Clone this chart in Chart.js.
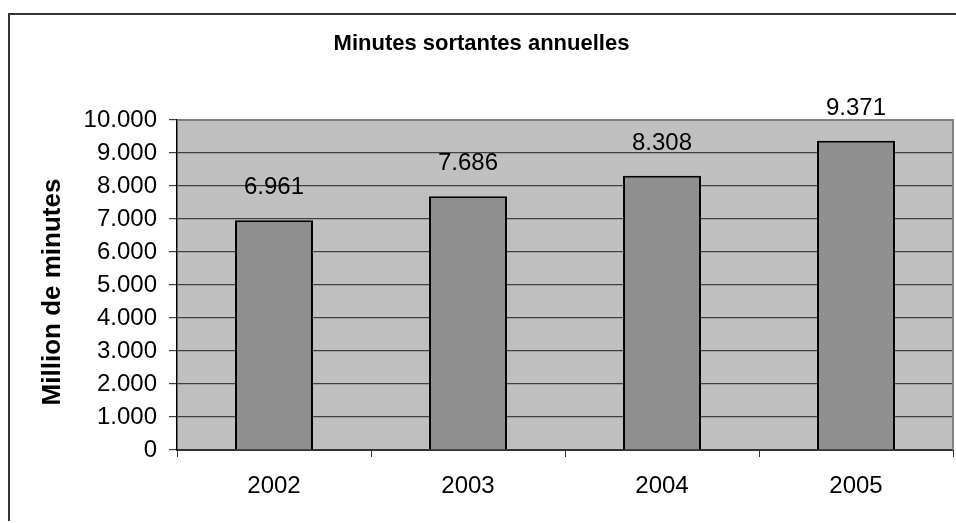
<!DOCTYPE html>
<html>
<head>
<meta charset="utf-8">
<script src="https://cdn.jsdelivr.net/npm/chart.js@4"></script>
<style>
  html, body { margin: 0; padding: 0; background: #fff; }
  #wrap { width: 956px; height: 523px; }
</style>
</head>
<body>
<div id="wrap"><canvas id="miGrafico" width="956" height="523"></canvas></div>
<script>
const years = ["2002", "2003", "2004", "2005"];
const minutes = [6961, 7686, 8308, 9371];
const yTicks = [0, 1000, 2000, 3000, 4000, 5000, 6000, 7000, 8000, 9000, 10000];

const FONT = "'Liberation Sans', Arial, sans-serif";

function fmt(v) {
	return String(v).replace(/\B(?=(\d{3})+(?!\d))/g, ".");
}

// grey plot background, right border, outer frame, axis title and value labels
const decor = {
	id: "decor",
	beforeDraw(chart) {
		const { ctx, chartArea: a } = chart;
		ctx.save();
		ctx.fillStyle = "#c0c0c0";
		ctx.fillRect(a.left, a.top, a.right - a.left, a.bottom - a.top);
		ctx.restore();
	},
	afterDatasetsDraw(chart) {
		const { ctx, chartArea: a } = chart;
		ctx.save();
		ctx.strokeStyle = "#808080";
		ctx.lineWidth = 2;
		ctx.beginPath();
		ctx.moveTo(a.left, a.top);
		ctx.lineTo(a.right, a.top);
		ctx.lineTo(a.right, a.bottom);
		ctx.stroke();

		ctx.strokeStyle = "#333";
		ctx.lineWidth = 2;
		ctx.beginPath();
		ctx.moveTo(9, 521);
		ctx.lineTo(9, 14);
		ctx.lineTo(956, 14);
		ctx.stroke();

		// y axis title
		ctx.save();
		ctx.translate(53, 292);
		ctx.rotate(-Math.PI / 2);
		ctx.fillStyle = "#000";
		ctx.font = "bold 26px " + FONT;
		ctx.textAlign = "center";
		ctx.textBaseline = "middle";
		ctx.fillText("Million de minutes", 0, 0);
		ctx.restore();

		ctx.fillStyle = "#000";
		ctx.font = "24px " + FONT;
		ctx.textAlign = "center";
		ctx.textBaseline = "alphabetic";
		chart.getDatasetMeta(0).data.forEach((bar, i) => {
			ctx.fillText(fmt(minutes[i]), bar.x, bar.y - 26);
		});
		ctx.restore();
	},
};

new Chart(document.getElementById("miGrafico"), {
	type: "bar",
	data: {
		labels: years,
		datasets: [
			{
				data: minutes,
				backgroundColor: "#8f8f8f",
				borderColor: "#000",
				borderWidth: 2,
				categoryPercentage: 1,
				barPercentage: 0.402,
			},
		],
	},
	options: {
		responsive: false,
		animation: false,
		layout: { padding: { left: 10, right: 3, top: 0, bottom: 0 } },
		plugins: {
			legend: { display: false },
			tooltip: { enabled: false },
			title: {
				display: true,
				text: "Minutes sortantes annuelles",
				color: "#000",
				font: { family: FONT, size: 22, weight: "bold" },
				padding: { top: 31, bottom: 62.6 },
			},
		},
		scales: {
			x: {
				afterFit(s) { s.height = 73; },
				grid: {
					offset: true,
					drawOnChartArea: false,
					drawTicks: true,
					tickLength: 7,
					color: "#333",
				},
				border: { color: "#333", width: 2 },
				ticks: { color: "#000", padding: 15, font: { family: FONT, size: 24 } },
			},
			y: {
				min: 0,
				max: 10000,
				afterFit(s) { s.width = 167; },
				afterBuildTicks(s) { s.ticks = yTicks.map((v) => ({ value: v })); },
				grid: { color: "#404040", lineWidth: 1.2, tickLength: 8 },
				border: { color: "#000", width: 1.5 },
				ticks: {
					color: "#000",
					padding: 12,
					font: { family: FONT, size: 24 },
					callback: (v) => fmt(v),
				},
			},
		},
	},
	plugins: [decor],
});
</script>
</body>
</html>
